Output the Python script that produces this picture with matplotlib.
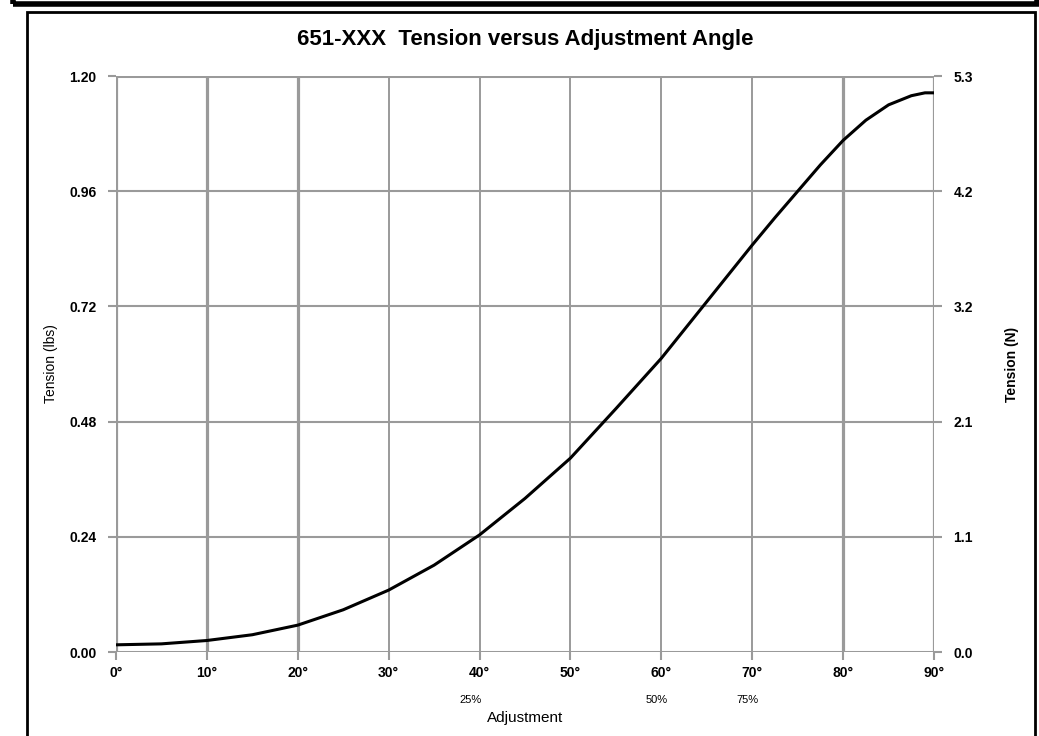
import matplotlib.pyplot as plt
from matplotlib.patches import Rectangle
from matplotlib.transforms import blended_transform_factory

plt.rcParams['font.family'] = ['Liberation Sans', 'DejaVu Sans']

# valores
angles = [0, 5, 10, 15, 20, 25, 30, 35, 40, 45, 50, 55, 60, 65, 70, 72.5, 75, 77.5,
          80, 82.5, 85, 87.5, 89, 90]
tension_lbs = [0.015, 0.017, 0.024, 0.036, 0.056, 0.088, 0.129, 0.181, 0.244, 0.320,
               0.404, 0.507, 0.612, 0.730, 0.848, 0.905, 0.960, 1.015,
               1.066, 1.108, 1.140, 1.159, 1.165, 1.165]

x_ticks = [0, 10, 20, 30, 40, 50, 60, 70, 80, 90]
x_labels = [f'{a}°' for a in x_ticks]
y_ticks = [0.00, 0.24, 0.48, 0.72, 0.96, 1.20]
y_labels = ['0.00', '0.24', '0.48', '0.72', '0.96', '1.20']
n_labels = ['0.0', '1.1', '2.1', '3.2', '4.2', '5.3']
pct_pos = [39, 59.5, 69.5]
pct_labels = ['25%', '50%', '75%']

fig = plt.figure(figsize=(10.39, 7.36), dpi=100)
ax = fig.add_axes([0.1116, 0.1141, 0.899 - 0.1116, 0.8967 - 0.1141])

grid_c = '#9a9a9a'
thick = {0, 10, 20, 80, 90}
for a in x_ticks:
    ax.axvline(a, color=grid_c, lw=2.3 if a in thick else 1.4, zorder=1)
for t in y_ticks:
    ax.axhline(t, color=grid_c, lw=2.2 if t in (0.0, 1.20) else 1.5, zorder=1)

ax.plot(angles, tension_lbs, color='black', lw=2.2, zorder=3)

ax.set_xlim(0, 90)
ax.set_ylim(0, 1.20)
for s in ax.spines.values():
    s.set_visible(False)

ax.set_xticks(x_ticks)
ax.set_xticklabels(x_labels, fontsize=10, fontweight='bold')
ax.set_yticks(y_ticks)
ax.set_yticklabels(y_labels, fontsize=10, fontweight='bold')
ax.tick_params(axis='both', color=grid_c, width=1.5, length=6, direction='out')
ax.tick_params(axis='x', pad=4)
ax.tick_params(axis='y', pad=8)

ax2 = ax.twinx()
ax2.set_ylim(0, 1.20)
ax2.set_yticks(y_ticks)
ax2.set_yticklabels(n_labels, fontsize=10, fontweight='bold')
ax2.tick_params(axis='y', color=grid_c, width=1.5, length=6, pad=8)
for s in ax2.spines.values():
    s.set_visible(False)
ax2.set_ylabel('Tension (N)', fontsize=10, fontweight='bold', labelpad=23, rotation=90)

ax.set_ylabel('Tension (lbs)', fontsize=10, labelpad=8)

tr = blended_transform_factory(ax.transData, ax.transAxes)
for p, lab in zip(pct_pos, pct_labels):
    ax.text(p, -0.083, lab, transform=tr, ha='center', va='center', fontsize=8)
ax.text(0.5, -0.115, 'Adjustment', transform=ax.transAxes, ha='center', va='center', fontsize=11)

ax.set_title('651-XXX  Tension versus Adjustment Angle', fontsize=16, fontweight='bold', pad=22)

# marcos
fig.patches.append(Rectangle((27 / 1039, -0.05), (1035 - 27) / 1039, 1.05 - 12 / 736,
                             transform=fig.transFigure, fill=False, ec='black', lw=2))
fig.patches.append(Rectangle((13 / 1039, 1 - 4 / 736), (1037 - 13) / 1039, 0.05,
                             transform=fig.transFigure, fill=False, ec='black', lw=4))

fig.savefig('out.png', dpi=100)
